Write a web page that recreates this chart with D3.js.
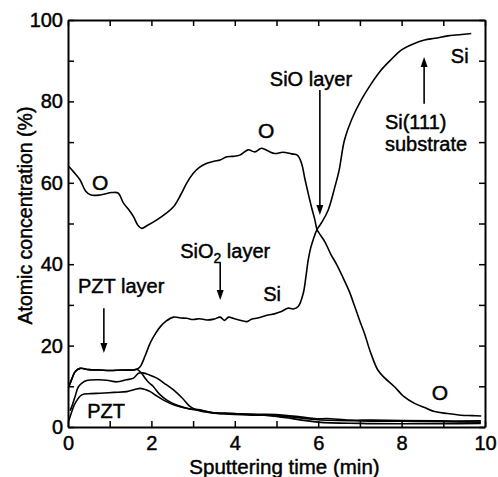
<!DOCTYPE html>
<html>
<head>
<meta charset="utf-8">
<script src="https://cdn.jsdelivr.net/npm/d3@7"></script>
<style>
  html, body { margin: 0; padding: 0; background: #fff; }
  svg text { font-family: "Liberation Sans", Arial, Helvetica, sans-serif; fill: #000; stroke: #000; stroke-width: 0.45px; }
</style>
</head>
<body>
<svg id="chart" width="498" height="477"></svg>
<script>
// ---------- data ----------
const xTicks = [0, 1, 2, 3, 4, 5, 6, 7, 8, 9, 10];
const xTickLabels = ["0", "", "2", "", "4", "", "6", "", "8", "", "10"];
const yTicks = [0, 10, 20, 30, 40, 50, 60, 70, 80, 90, 100];
const yTickLabels = ["0", "", "20", "", "40", "", "60", "", "80", "", "100"];

// Oxygen
const oTime = [0.02,0.15,0.29,0.42,0.55,0.77,1.05,1.2,1.33,1.45,1.57,1.68,1.77,1.9,2.13,2.35,2.53,2.7,2.85,3.0,3.15,3.33,3.5,3.65,3.81,3.95,4.12,4.32,4.48,4.64,4.8,4.96,5.15,5.36,5.5,5.6,5.68,5.76,5.84,5.92,5.97,6.05,6.16,6.3,6.45,6.6,6.75,6.87,7.0,7.11,7.25,7.43,7.6,7.83,8.05,8.31,8.55,8.79,9.1,9.43,9.7,9.91];
const oConc = [64,62.5,60.7,58,57,57,57.6,57.5,55,53.5,51.7,49.5,48.8,49.5,50.9,52.5,54.1,57,60,62.3,63.8,64.8,65.3,65.6,66.4,66.5,66.8,68.1,67.6,68.5,67.8,67.2,67.5,67.1,66.8,64.8,61,57.4,54,50.9,48.6,47.2,45.5,42.5,39.8,36.6,33.2,29.8,26,23,18.5,14,12,9.9,7.5,5.8,4.8,3.8,3.3,2.9,2.8,2.7];

// Silicon
const siTime = [0.02,0.1,0.17,0.29,0.5,0.77,1.0,1.3,1.57,1.65,1.73,1.85,1.97,2.1,2.21,2.35,2.53,2.7,2.85,3.0,3.15,3.33,3.5,3.65,3.75,3.85,3.96,4.1,4.29,4.4,4.55,4.8,4.95,5.1,5.28,5.4,5.52,5.64,5.7,5.76,5.82,5.88,5.97,6.1,6.24,6.4,6.5,6.63,6.8,7.03,7.25,7.51,7.75,7.99,8.25,8.55,8.8,9.11,9.3,9.5,9.67];
const siConc = [9.9,12,13.6,14.4,14.1,14,13.9,14,14,14.2,14.8,17.5,20.6,23,24.6,26,27,26.8,26.7,26.4,26.6,26.3,26.5,27,26.2,27,26.7,26.3,25.9,26.5,26.8,27.5,27.8,28.3,29.2,29,29.6,32.8,36.5,41,44,46,48.5,50.5,53.3,59,63,70.5,75.5,80.3,84,87.7,90.3,92.6,94,95.1,95.5,96.1,96.3,96.5,96.7];

// PZT constituents
const pbTime = [0.02,0.1,0.17,0.29,0.5,0.77,1.0,1.3,1.57,1.65,1.75,1.85,1.95,2.05,2.2,2.37,2.6,2.85,3.1,3.3,3.5,3.96,4.4,4.76,5.2,5.56,5.96,6.2,6.76,7.3,8.0,8.9,9.9];
const pbConc = [9.9,12,13.6,14.4,14.1,14,13.9,14,14,14.2,13.4,12,10.8,9.9,8,6.6,5.4,4.6,4.1,3.7,3.4,3.3,3.1,3.1,2.9,2.5,2.0,2.1,1.7,1.7,1.6,1.5,1.5];

const zrTime = [0.05,0.09,0.17,0.25,0.35,0.45,0.7,0.93,1.17,1.4,1.57,1.69,1.8,1.95,2.13,2.3,2.53,2.75,2.93,3.1,3.33,3.6,4.0,4.5,5.0,5.5,6.0,7.0,8.0,9.0,9.9];
const zrConc = [4,5,7.5,9.9,10.9,11.4,11.6,11.5,11.1,11.6,12,13.2,13.3,12.8,12,10.8,9.1,7,5,4.2,3.8,3.3,3.1,2.9,2.8,2.3,1.8,1.5,1.4,1.3,1.2];

const tiTime = [0.02,0.05,0.17,0.33,0.55,0.77,1.1,1.41,1.6,1.73,1.85,1.97,2.1,2.29,2.5,2.69,2.9,3.17,3.4,3.77,4.3,5.0,6.0,7.0,8.0,9.0,9.9];
const tiConc = [1.5,2.5,5.8,7.9,8.2,8.3,8.5,8.7,9.2,9.5,9.2,8.7,7.8,6.6,5.6,5,4.5,4.2,3.6,3.4,3.2,2.6,1.2,0.9,0.8,0.8,0.9];

// ---------- layout ----------
const svg = d3.select("#chart");
const margin = {left: 68, right: 13, top: 20, bottom: 50};
const W = 498, H = 477;
const x = d3.scaleLinear().domain([0, 10]).range([margin.left, W - margin.right]);
const y = d3.scaleLinear().domain([0, 100]).range([H - margin.bottom, margin.top]);

const FONT = 20;

// axes
const axBottom = d3.axisBottom(x).tickValues(xTicks)
  .tickFormat((d, i) => xTickLabels[i]).tickSizeInner(-6).tickSizeOuter(0).tickPadding(9);
const axLeft = d3.axisLeft(y).tickValues(yTicks)
  .tickFormat((d, i) => yTickLabels[i]).tickSizeInner(-6).tickSizeOuter(0).tickPadding(5);
const axTop = d3.axisTop(x).tickValues(xTicks).tickFormat("").tickSizeInner(-6).tickSizeOuter(0);
const axRight = d3.axisRight(y).tickValues(yTicks).tickFormat("").tickSizeInner(-6).tickSizeOuter(0);

function style(g) {
  g.selectAll("path.domain").attr("stroke", "#000").attr("stroke-width", 2);
  g.selectAll(".tick line").attr("stroke", "#000").attr("stroke-width", 1.5);
  g.selectAll(".tick text").attr("font-size", FONT).attr("fill", "#000")
    .attr("font-family", '"Liberation Sans", Arial, sans-serif');
}
svg.append("g").attr("transform", `translate(0,${y(0)})`).call(axBottom).call(style)
  .selectAll(".tick text").attr("dy", "0.71em");
svg.append("g").attr("transform", `translate(${x(0)},0)`).call(axLeft).call(style);
svg.append("g").attr("transform", `translate(0,${y(100)})`).call(axTop).call(style);
svg.append("g").attr("transform", `translate(${x(10)},0)`).call(axRight).call(style);

// axis titles
svg.append("text").attr("x", (x(0) + x(10)) / 2 + 8).attr("y", 474)
  .attr("text-anchor", "middle").attr("font-size", 20.5).text("Sputtering time (min)");
svg.append("text").attr("transform", `translate(32,${(y(0) + y(100)) / 2 - 8}) rotate(-90)`)
  .attr("text-anchor", "middle").attr("font-size", 19.5).text("Atomic concentration (%)");

// lines
const line = d3.line().x(d => x(d[0])).y(d => y(d[1])).curve(d3.curveCatmullRom.alpha(0.5));
const series = [
  [tiTime, tiConc], [zrTime, zrConc], [pbTime, pbConc], [siTime, siConc], [oTime, oConc]
];
series.forEach(([t, c]) => {
  svg.append("path").datum(t.map((d, i) => [d, c[i]]))
    .attr("d", line).attr("fill", "none").attr("stroke", "#000")
    .attr("stroke-width", 1.6).attr("stroke-linejoin", "round");
});

// annotations (data units)
function label(t, v, txt, anchor = "start", size = FONT) {
  return svg.append("text").attr("x", x(t)).attr("y", y(v))
    .attr("text-anchor", anchor).attr("font-size", size).text(txt);
}
label(0.24, 32.9, "PZT layer");
const s2 = svg.append("text").attr("x", x(2.69)).attr("y", y(41.5)).attr("font-size", FONT);
s2.append("tspan").text("SiO");
s2.append("tspan").attr("font-size", 14).attr("dy", 5).text("2");
s2.append("tspan").attr("dy", -5).text(" layer");
label(4.84, 83.8, "SiO layer");
label(7.6, 73.3, "Si(111)");
label(7.6, 67.8, "substrate");
label(9.18, 89.4, "Si");
label(4.68, 31, "Si");
label(0.46, 2.2, "PZT");
label(0.77, 58.2, "O", "middle", 21);
label(4.75, 71, "O", "middle", 21);
label(8.92, 6.6, "O", "middle", 21);

// arrows
function arrow(t, v0, v1) {
  const x0 = x(t), ya = y(v0), yb = y(v1);
  const dir = yb > ya ? 1 : -1;
  const head = 10, hw = 3.5;
  svg.append("line").attr("x1", x0).attr("x2", x0).attr("y1", ya).attr("y2", yb - dir * head * 0.6)
    .attr("stroke", "#000").attr("stroke-width", 1.6);
  svg.append("path")
    .attr("d", `M${x0},${yb} L${x0 - hw},${yb - dir * head} L${x0 + hw},${yb - dir * head} Z`)
    .attr("fill", "#000");
}
arrow(0.86, 29.2, 18.2);
arrow(3.65, 40.3, 31.2);
arrow(6.04, 82.8, 52.1);
arrow(8.54, 79.4, 90.9);
</script>
</body>
</html>
